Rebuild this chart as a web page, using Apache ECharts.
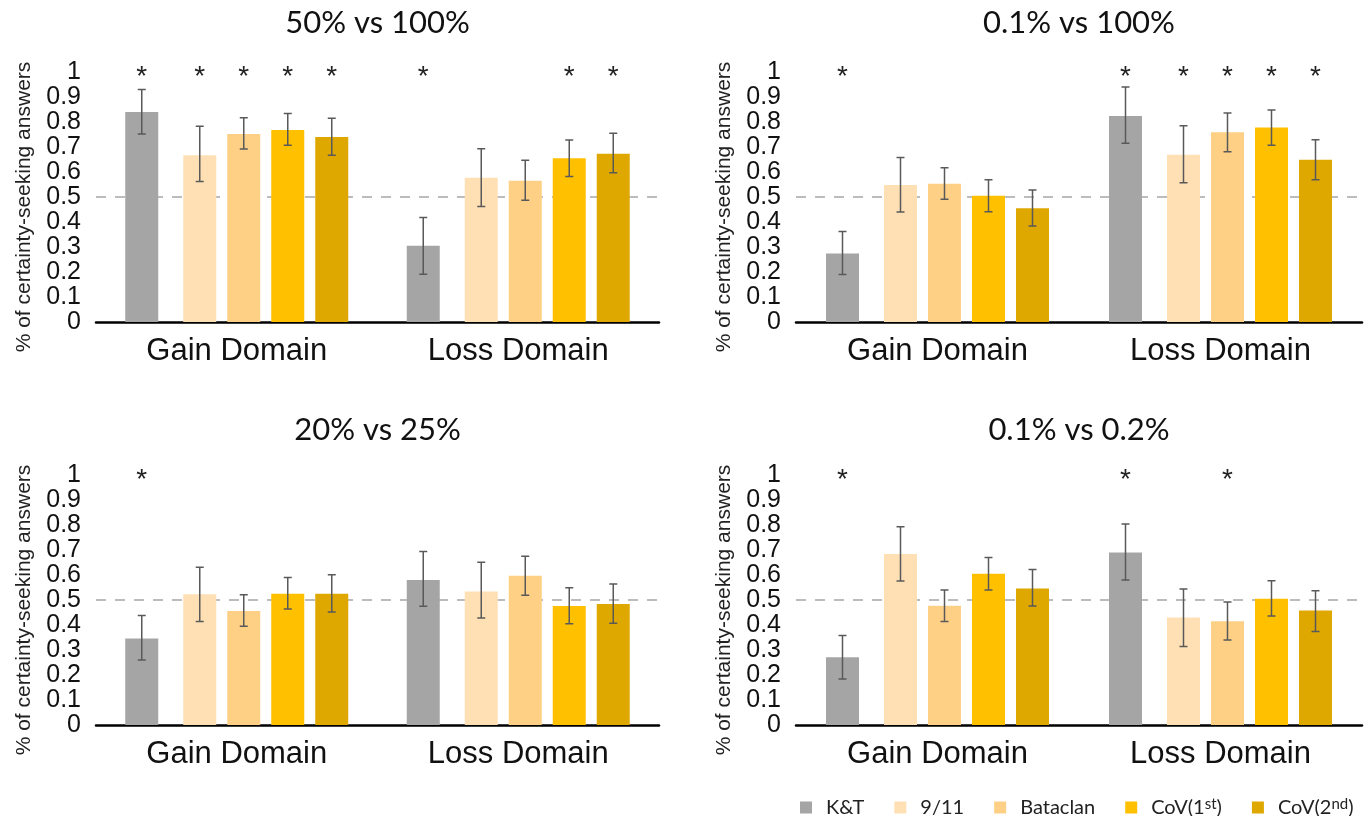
<!DOCTYPE html>
<html>
<head>
<meta charset="utf-8">
<script src="https://cdn.jsdelivr.net/npm/echarts@6/dist/echarts.min.js"></script>
<style>
html,body{margin:0;padding:0;background:#fff;}
#chart{width:1369px;height:816px;}
</style>
</head>
<body>
<div id="chart"></div>
<script>
// ---------- data ----------
const categories = ['Gain Domain', 'Loss Domain'];
const seriesNames = ['K&T', '9/11', 'Bataclan', 'CoV(1st)', 'CoV(2nd)'];
const panelTitles = ['50% vs 100%', '0.1% vs 100%', '20% vs 25%', '0.1% vs 0.2%'];
const yAxisName = '% of certainty-seeking answers';

// each row: one series, [Gain, Loss]
const p1Means = [[0.84, 0.305], [0.667, 0.577], [0.752, 0.565], [0.768, 0.655], [0.740, 0.673]];
const p1Low   = [[0.752, 0.191], [0.562, 0.462], [0.692, 0.487], [0.707, 0.582], [0.667, 0.597]];
const p1High  = [[0.930, 0.418], [0.783, 0.693], [0.817, 0.647], [0.834, 0.728], [0.815, 0.755]];
const p1Stars = [[1, 1], [1, 0], [1, 0], [1, 1], [1, 1]];

const p2Means = [[0.274, 0.824], [0.548, 0.669], [0.553, 0.759], [0.505, 0.778], [0.455, 0.649]];
const p2Low   = [[0.190, 0.715], [0.440, 0.557], [0.491, 0.681], [0.441, 0.707], [0.384, 0.569]];
const p2High  = [[0.362, 0.940], [0.658, 0.785], [0.617, 0.836], [0.569, 0.848], [0.528, 0.729]];
const p2Stars = [[1, 1], [0, 1], [0, 1], [0, 1], [0, 1]];

const p3Means = [[0.346, 0.580], [0.523, 0.534], [0.456, 0.597], [0.525, 0.476], [0.525, 0.484]];
const p3Low   = [[0.260, 0.475], [0.414, 0.428], [0.395, 0.519], [0.464, 0.405], [0.452, 0.407]];
const p3High  = [[0.438, 0.694], [0.631, 0.651], [0.521, 0.675], [0.590, 0.549], [0.601, 0.564]];
const p3Stars = [[1, 0], [0, 0], [0, 0], [0, 0], [0, 0]];

const p4Means = [[0.271, 0.690], [0.684, 0.430], [0.477, 0.415], [0.605, 0.505], [0.546, 0.458]];
const p4Low   = [[0.184, 0.580], [0.576, 0.314], [0.414, 0.340], [0.540, 0.436], [0.476, 0.374]];
const p4High  = [[0.358, 0.804], [0.793, 0.544], [0.540, 0.492], [0.670, 0.577], [0.622, 0.537]];
const p4Stars = [[1, 1], [0, 0], [0, 1], [0, 0], [0, 0]];

const panels = [
  {means: p1Means, low: p1Low, high: p1High, stars: p1Stars},
  {means: p2Means, low: p2Low, high: p2High, stars: p2Stars},
  {means: p3Means, low: p3Low, high: p3High, stars: p3Stars},
  {means: p4Means, low: p4Low, high: p4High, stars: p4Stars}
];

// ---------- style / layout ----------
const colors = ['#a5a5a5', '#fee0b4', '#fdd086', '#ffc000', '#dfa800'];
const grids = [
  {left: 96, top: 72, width: 563, height: 250},
  {left: 796, top: 72, width: 566, height: 250},
  {left: 96, top: 475, width: 563, height: 250},
  {left: 796, top: 475, width: 566, height: 250}
];
const titleTops = [7, 7, 414, 414];
const BAR_W = 33, GAP = 1 / 3, SPACER_W = 10.5;
const FONT = 'Liberation Sans, Arial, sans-serif';

// bar centre offsets (same rules as echarts bar layout)
const cols = [BAR_W, SPACER_W, BAR_W, BAR_W, BAR_W, BAR_W];
let total = 0;
cols.forEach(w => { total += w * (1 + GAP); });
total -= BAR_W * GAP;
let off = -total / 2;
const centers = [];
cols.forEach(w => { centers.push(off + w / 2); off += w * (1 + GAP); });
const seriesOffsets = [centers[0], centers[2], centers[3], centers[4], centers[5]];

const option = {
  animation: false,
  backgroundColor: '#ffffff',
  title: [],
  grid: [],
  xAxis: [],
  yAxis: [],
  series: [],
  legend: {
    left: 800, top: 797, padding: 0,
    itemWidth: 12, itemHeight: 12, itemGap: 30,
    icon: 'rect',
    data: seriesNames,
    formatter: n => n.replace(/\((\d)(st|nd)\)/, '($1{sup|$2})'),
    textStyle: {
      fontFamily: 'Lato, sans-serif', fontSize: 20, color: '#222',
      padding: [0, 0, 0, 9],
      rich: {sup: {fontFamily: 'Lato, sans-serif', fontSize: 15, color: '#222', verticalAlign: 'top', padding: [0, 0, 6, 0]}}
    }
  }
};

panels.forEach((p, i) => {
  const g = grids[i];
  option.grid.push(g);
  option.title.push({
    text: panelTitles[i],
    left: g.left + g.width / 2, top: titleTops[i],
    textAlign: 'center', padding: 0,
    textStyle: {fontFamily: 'Lato, sans-serif', fontSize: 31, fontWeight: 'normal', color: '#111'}
  });
  option.xAxis.push({
    type: 'category', gridIndex: i, data: categories,
    axisLine: {lineStyle: {color: '#000', width: 2.5}},
    axisTick: {show: false},
    axisLabel: {fontFamily: FONT, fontSize: 31, color: '#111', margin: 14}
  });
  option.yAxis.push({
    type: 'value', gridIndex: i, min: 0, max: 1, interval: 0.1,
    axisLine: {show: false}, axisTick: {show: false}, splitLine: {show: false},
    axisLabel: {fontFamily: FONT, fontSize: 25, color: '#111', margin: 15,
                showMinLabel: true, showMaxLabel: true, hideOverlap: false},
    name: yAxisName, nameLocation: 'middle', nameGap: 61, nameRotate: 90,
    nameTextStyle: {fontFamily: FONT, fontSize: 21, color: '#222', padding: [0, 20, 0, 0]}
  });
  p.means.forEach((vals, s) => {
    option.series.push({
      type: 'bar', name: seriesNames[s], xAxisIndex: i, yAxisIndex: i,
      data: vals, barWidth: BAR_W, barGap: '33.333%', z: 2, silent: true,
      itemStyle: {color: colors[s]}
    });
    if (s === 0) {
      option.series.push({
        type: 'bar', name: '__spacer', xAxisIndex: i, yAxisIndex: i,
        data: [0, 0], barWidth: SPACER_W, barGap: '33.333%', z: 1, silent: true,
        itemStyle: {color: 'rgba(0,0,0,0)'},
        markLine: {
          silent: true, symbol: 'none', z: 1, animation: false,
          label: {show: false},
          lineStyle: {type: [10, 9], color: '#a6a6a6', width: 1.5},
          data: [{yAxis: 0.5}]
        }
      });
    }
  });
  const errData = [];
  p.means.forEach((vals, s) => {
    vals.forEach((v, c) => {
      errData.push([c, s, p.low[s][c], p.high[s][c], p.stars[s][c]]);
    });
  });
  option.series.push({
    type: 'custom', name: '__err', xAxisIndex: i, yAxisIndex: i, z: 5, silent: true,
    data: errData,
    encode: {x: 0, y: 2},
    renderItem: (params, api) => {
      const c = api.value(0), s = api.value(1), lo = api.value(2), hi = api.value(3), st = api.value(4);
      const x = api.coord([c, 0])[0] + seriesOffsets[s];
      const yl = api.coord([c, lo])[1], yh = api.coord([c, hi])[1];
      const ls = {stroke: '#595959', lineWidth: 1.5};
      const children = [
        {type: 'line', shape: {x1: x, y1: yl, x2: x, y2: yh}, style: ls},
        {type: 'line', shape: {x1: x - 4, y1: yl, x2: x + 4, y2: yl}, style: ls},
        {type: 'line', shape: {x1: x - 4, y1: yh, x2: x + 4, y2: yh}, style: ls}
      ];
      if (st) {
        const ys = api.coord([c, 1])[1];
        children.push({type: 'text', style: {
          text: '*', x: x, y: ys + 5, fill: '#222',
          font: '28px Liberation Sans', align: 'center', verticalAlign: 'middle'
        }});
      }
      return {type: 'group', children};
    }
  });
});

const chart = echarts.init(document.getElementById('chart'), null, {renderer: 'canvas'});
chart.setOption(option);
</script>
</body>
</html>
